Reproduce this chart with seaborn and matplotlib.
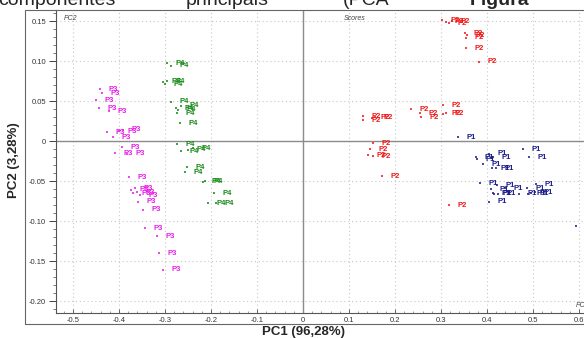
import pandas as pd
import seaborn as sns
from matplotlib import pyplot as plt
from matplotlib.patches import Rectangle

# PCA scores, one group per sample class
p1_x = [0.337, 0.478, 0.491, 0.376, 0.378, 0.404, 0.413, 0.391, 0.411, 0.420, 0.385, 0.409, 0.422,
        0.439, 0.413, 0.415, 0.424, 0.404, 0.507, 0.487, 0.504, 0.470, 0.489, 0.496, 0.593]
p1_y = [0.005, -0.010, -0.020, -0.020, -0.0225, -0.016, -0.020, -0.029, -0.034, -0.034, -0.0525, -0.060, -0.055,
        -0.059, -0.065, -0.066, -0.066, -0.076, -0.054, -0.059, -0.064, -0.066, -0.066, -0.065, -0.106]

p2_x = [0.302, 0.311, 0.317, 0.324, 0.352, 0.357, 0.354, 0.354, 0.383, 0.235, 0.254, 0.257, 0.304,
        0.304, 0.311, 0.130, 0.130, 0.150, 0.157, 0.152, 0.146, 0.141, 0.152, 0.172, 0.317]
p2_y = [0.151, 0.149, 0.1475, 0.150, 0.135, 0.1325, 0.129, 0.116, 0.099, 0.040, 0.035, 0.030, 0.045,
        0.034, 0.035, 0.031, 0.026, 0.029, 0.030, -0.0025, -0.010, -0.0175, -0.019, -0.044, -0.080]

p3_x = [-0.441, -0.437, -0.450, -0.443, -0.422, -0.426, -0.413, -0.391, -0.400, -0.393, -0.409, -0.383,
        -0.378, -0.374, -0.370, -0.365, -0.361, -0.354, -0.359, -0.348, -0.343, -0.317, -0.313, -0.304]
p3_y = [0.065, 0.060, 0.051, 0.041, 0.0375, 0.011, 0.005, 0.014, 0.0125, -0.0075, -0.015, -0.016,
        -0.045, -0.061, -0.065, -0.059, -0.064, -0.0675, -0.076, -0.086, -0.109, -0.119, -0.140, -0.161]

p4_x = [-0.296, -0.287, -0.304, -0.300, -0.296, -0.287, -0.276, -0.272, -0.274, -0.265, -0.267,
        -0.274, -0.265, -0.250, -0.239, -0.252, -0.257, -0.217, -0.213, -0.193, -0.207, -0.189]
p4_y = [0.0975, 0.094, 0.074, 0.071, 0.075, 0.049, 0.041, 0.039, 0.035, 0.044, 0.0225,
        -0.004, -0.0125, -0.011, -0.009, -0.0325, -0.039, -0.051, -0.050, -0.065, -0.0775, -0.0775]

groups = ['P1', 'P2', 'P3', 'P4']
colors = {'P1': '#1c1c8a', 'P2': '#f01818', 'P3': '#e81ee8', 'P4': '#168a16'}

x_ticks = [-0.5, -0.4, -0.3, -0.2, -0.1, 0, 0.1, 0.2, 0.3, 0.4, 0.5, 0.6]
x_labels = ['-0.5', '-0.4', '-0.3', '-0.2', '-0.1', '0', '0.1', '0.2', '0.3', '0.4', '0.5', '0.6']
y_ticks = [0.15, 0.10, 0.05, 0, -0.05, -0.10, -0.15, -0.20]
y_labels = ['0.15', '0.10', '0.05', '0', '-0.05', '-0.10', '-0.15', '-0.20']

df = pd.concat([
    pd.DataFrame({'PC1': p1_x, 'PC2': p1_y, 'grupo': 'P1'}),
    pd.DataFrame({'PC1': p2_x, 'PC2': p2_y, 'grupo': 'P2'}),
    pd.DataFrame({'PC1': p3_x, 'PC2': p3_y, 'grupo': 'P3'}),
    pd.DataFrame({'PC1': p4_x, 'PC2': p4_y, 'grupo': 'P4'}),
], ignore_index=True)

sns.set_style('white')
plt.rcParams['font.family'] = ['Liberation Sans', 'DejaVu Sans']

fig = plt.figure(figsize=(5.84, 3.38), dpi=100)
ax = fig.add_axes([56 / 584, 1 - 313 / 338, 528 / 584, 303 / 338])

ax.set_xlim(-0.537, 0.611)
ax.set_ylim(-0.215, 0.164)

# dotted grid + zero cross
for xt in x_ticks:
    ax.axvline(xt, color='#c8c8c8', lw=0.8, ls=(0, (1, 2.5)), zorder=0)
for yt in y_ticks:
    ax.axhline(yt, color='#c8c8c8', lw=0.8, ls=(0, (1, 2.5)), zorder=0)
ax.axvline(0, color='#8c8c8c', lw=1.0, zorder=1)
ax.axhline(0, color='#8c8c8c', lw=1.0, zorder=1)

sns.scatterplot(data=df, x='PC1', y='PC2', hue='grupo', palette=colors, hue_order=groups,
                s=2.5, marker='s', linewidth=0, alpha=0.8, legend=False, ax=ax, zorder=3)

for _, row in df.iterrows():
    ax.annotate(row['grupo'], (row['PC1'], row['PC2']), xytext=(6.3, 0), textcoords='offset points',
                ha='left', va='center', fontsize=5.5, fontweight='bold',
                color=colors[row['grupo']], zorder=4)

ax.set_xticks(x_ticks)
ax.set_xticklabels(x_labels)
ax.set_yticks(y_ticks)
ax.set_yticklabels(y_labels)
ax.set_xticks([i / 50 for i in range(-26, 31)], minor=True)
ax.set_yticks([i / 100 for i in range(-21, 17)], minor=True)
ax.tick_params(axis='y', which='major', direction='out', length=5, width=0.7, labelsize=5.5,
               colors='#444444', labelcolor='#333333', pad=2, left=True)
ax.tick_params(axis='y', which='minor', direction='out', length=2.5, width=0.6, colors='#666666', left=True)
ax.tick_params(axis='x', which='major', direction='in', length=3, width=0.7, labelsize=5.5,
               colors='#666666', labelcolor='#333333', pad=3, bottom=True)
ax.tick_params(axis='x', which='minor', direction='in', length=1.5, width=0.6, colors='#888888', bottom=True)

for side in ['top', 'right']:
    ax.spines[side].set_visible(False)
for side in ['left', 'bottom']:
    ax.spines[side].set_color('#555555')
    ax.spines[side].set_linewidth(0.8)

ax.set_xlabel('')
ax.set_ylabel('')

ax.text(0.015, 0.985, 'PC2', transform=ax.transAxes, fontsize=5, style='italic',
        color='#444444', va='top', ha='left')
ax.text(0.545, 0.985, 'Scores', transform=ax.transAxes, fontsize=5, style='italic',
        color='#444444', va='top', ha='left')
ax.text(0.985, 0.035, 'PC1', transform=ax.transAxes, fontsize=5, style='italic',
        color='#444444', va='top', ha='left', clip_on=False)

# outer frame around the plot and tick labels
fig.add_artist(Rectangle((25 / 584, 1 - 324 / 338), 1, (324 - 10) / 338, transform=fig.transFigure,
                         fill=False, edgecolor='#666666', lw=0.8))

fig.text(303 / 584, 1 - 332 / 338, 'PC1 (96,28%)', ha='center', va='center', fontsize=9.5, fontweight='bold')
fig.text(14 / 584, 1 - 160 / 338, 'PC2 (3,28%)', ha='center', va='center', rotation=90,
         fontsize=9.5, fontweight='bold')

# caption line cut at top of the page
fig.text(-2 / 584, 1 - 5 / 338, 'componentes', fontsize=14, va='baseline', ha='left')
fig.text(186 / 584, 1 - 5 / 338, 'principais', fontsize=14, va='baseline', ha='left')
fig.text(343 / 584, 1 - 5 / 338, '(PCA', fontsize=14, va='baseline', ha='left')
fig.text(470 / 584, 1 - 5 / 338, 'Figura', fontsize=14, va='baseline', ha='left', fontweight='bold')

fig.savefig('out.png', dpi=100)
